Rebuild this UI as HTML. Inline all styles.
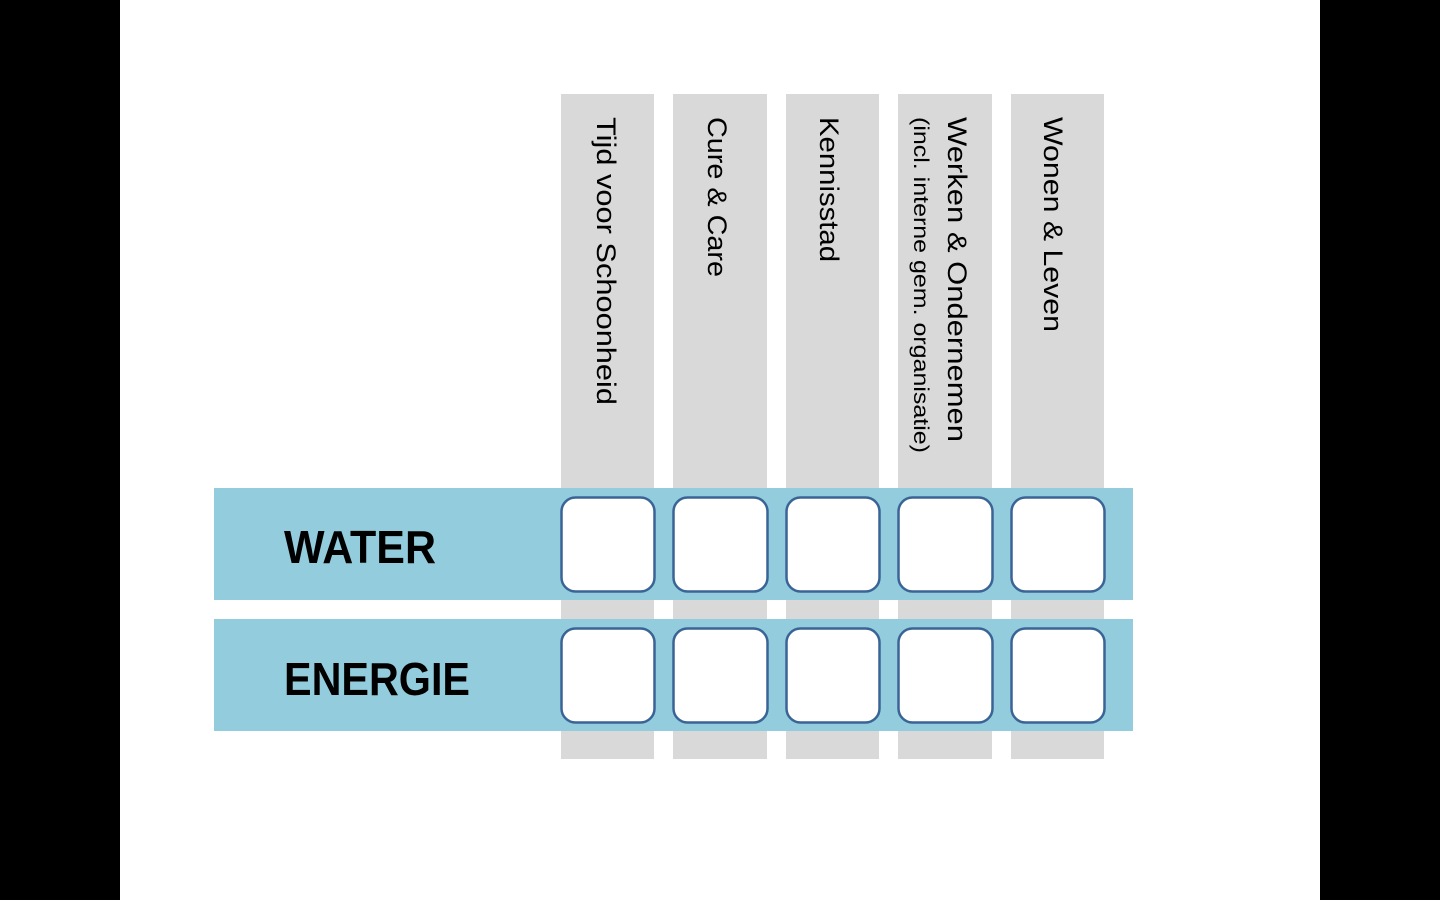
<!DOCTYPE html>
<html><head><meta charset="utf-8"><style>
html,body{margin:0;padding:0;background:#000;}
svg{display:block}
</style></head><body>
<svg width="1440" height="900" viewBox="0 0 1440 900" xmlns="http://www.w3.org/2000/svg">
<rect x="0" y="0" width="1440" height="900" fill="#000"/>
<rect x="120" y="0" width="1200" height="900" fill="#fff"/>
<g fill="#d9d9d9">
<rect x="561" y="94" width="93" height="665"/>
<rect x="673" y="94" width="94" height="665"/>
<rect x="786" y="94" width="93" height="665"/>
<rect x="898" y="94" width="94" height="665"/>
<rect x="1011" y="94" width="93" height="665"/>
</g>
<rect x="214" y="488" width="919" height="112" fill="#93cddd"/>
<rect x="214" y="619" width="919" height="112" fill="#93cddd"/>
<g fill="#fff" stroke="#3b6496" stroke-width="2.5">
<rect x="561.5" y="497.5" width="93" height="94" rx="14"/>
<rect x="673.5" y="497.5" width="94" height="94" rx="14"/>
<rect x="786.5" y="497.5" width="93" height="94" rx="14"/>
<rect x="898.5" y="497.5" width="94" height="94" rx="14"/>
<rect x="1011.5" y="497.5" width="93" height="94" rx="14"/>
<rect x="561.5" y="628.5" width="93" height="94" rx="14"/>
<rect x="673.5" y="628.5" width="94" height="94" rx="14"/>
<rect x="786.5" y="628.5" width="93" height="94" rx="14"/>
<rect x="898.5" y="628.5" width="94" height="94" rx="14"/>
<rect x="1011.5" y="628.5" width="93" height="94" rx="14"/>
</g>
<g font-family="Liberation Sans, sans-serif" fill="#000">
<text x="284" y="563" font-size="46" font-weight="bold" textLength="152" lengthAdjust="spacingAndGlyphs">WATER</text>
<text x="284" y="695" font-size="46" font-weight="bold" textLength="186" lengthAdjust="spacingAndGlyphs">ENERGIE</text>
<g font-size="27">
<text transform="translate(597,117) rotate(90)" textLength="288" lengthAdjust="spacingAndGlyphs">Tijd voor Schoonheid</text>
<text transform="translate(708,117) rotate(90)" textLength="160" lengthAdjust="spacingAndGlyphs">Cure &amp; Care</text>
<text transform="translate(820,117) rotate(90)" textLength="145" lengthAdjust="spacingAndGlyphs">Kennisstad</text>
<text transform="translate(948,117) rotate(90)" textLength="325" lengthAdjust="spacingAndGlyphs">Werken &amp; Ondernemen</text>
<text transform="translate(1044,117) rotate(90)" textLength="215" lengthAdjust="spacingAndGlyphs">Wonen &amp; Leven</text>
</g>
<text transform="translate(914,117) rotate(90)" font-size="21" textLength="336" lengthAdjust="spacingAndGlyphs">(incl. interne gem. organisatie)</text>
</g>
</svg>
</body></html>
